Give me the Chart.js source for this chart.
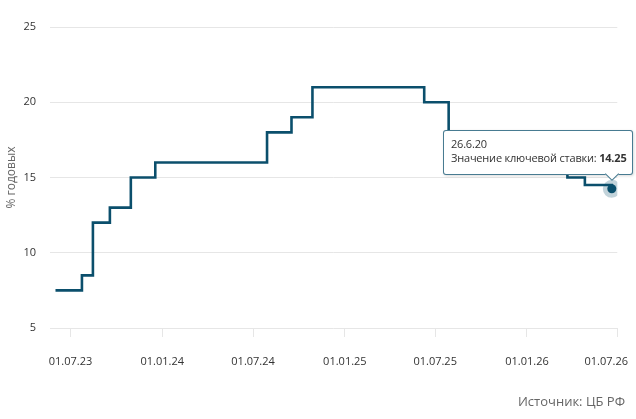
<!DOCTYPE html>
<html>
<head>
<meta charset="utf-8">
<style>
  body { margin: 0; background: #fff; font-family: "Open Sans", sans-serif; }
  #wrap { position: relative; width: 634px; height: 419px; }
  #tip { position: absolute; display: none; background: #fff; border: 1px solid rgba(11,79,108,0.75); border-radius: 3px;
         padding: 6px 6px 8px 7px; font: 11px "Open Sans", sans-serif; letter-spacing: -0.2px; line-height: 14.5px; color: #333; white-space: nowrap;
         box-shadow: 1px 1px 3px rgba(0,0,0,0.15); pointer-events: none; }
  #tip .caret { position: absolute; width: 9px; height: 9px; bottom: -5.5px; background: #fff; transform: rotate(45deg);
                border-right: 1px solid rgba(11,79,108,0.75); border-bottom: 1px solid rgba(11,79,108,0.75); }
  #source { position: absolute; right: 9px; top: 392px; font: 13px "Open Sans", sans-serif; color: #666; }
</style>
</head>
<body>
<div id="wrap">
  <canvas id="rateChart"></canvas>
  <div id="tip"></div>
  <div id="source">Источник: ЦБ РФ</div>
</div>

<script src="https://cdn.jsdelivr.net/npm/chart.js"></script>
<script>
    // key rate changes (date the new rate starts, % per year)
    const rateDates = ["2023-06-01", "2023-07-24", "2023-08-15", "2023-09-18", "2023-10-30", "2023-12-18",
        "2024-07-29", "2024-09-16", "2024-10-28", "2025-06-09", "2025-07-28", "2025-09-15",
        "2025-10-27", "2025-12-22", "2026-02-16", "2026-03-23", "2026-04-27", "2026-06-20"];
    const rateValues = [7.5, 8.5, 12, 13, 15, 16, 18, 19, 21, 20, 18, 17, 16.5, 16, 15.5, 15, 14.5, 14.25];
    const tickDates = ["2023-07-01", "2024-01-01", "2024-07-01", "2025-01-01", "2025-07-01", "2026-01-01", "2026-07-01"];
    const yTicks = [5, 10, 15, 20, 25];
    const axisStart = "2023-05-21", axisEnd = "2026-07-01";

    const ms = s => Date.parse(s + "T00:00:00Z");
    const pad = n => String(n).padStart(2, "0");
    const fmtTick = v => { const d = new Date(v); return pad(d.getUTCDate()) + "." + pad(d.getUTCMonth() + 1) + "." + pad(d.getUTCFullYear() % 100); };
    const fmtTitle = v => { const d = new Date(v); return (d.getUTCFullYear() % 100) + "." + (d.getUTCMonth() + 1) + "." + d.getUTCDate(); };
    const lineColor = "#0b4f6c";

    function externalTip(context) {
        const { chart, tooltip } = context;
        const el = document.getElementById("tip");
        if (tooltip.opacity === 0 || !tooltip.dataPoints || !tooltip.dataPoints.length) { el.style.display = "none"; return; }
        const p = tooltip.dataPoints[0];
        el.innerHTML = `<div>${fmtTitle(p.parsed.x)}</div><div>Значение ключевой ставки: <b>${p.parsed.y}</b></div><span class="caret"></span>`;
        el.style.display = "block";
        const w = el.offsetWidth, h = el.offsetHeight;
        const left = Math.min(tooltip.caretX - w / 2, chart.width - w - 1);
        el.style.left = left + "px";
        el.style.top = (tooltip.caretY - h - 14) + "px";
        el.querySelector(".caret").style.left = (tooltip.caretX - left - 1 - 5) + "px";
    }

    const chart = new Chart(document.getElementById("rateChart"), {
        type: "line",
        data: {
            datasets: [{
                data: rateDates.map((d, i) => ({ x: ms(d), y: rateValues[i] })),
                borderColor: lineColor, borderWidth: 2.6, stepped: true, fill: false,
                pointRadius: 0, pointHoverRadius: 4.5, pointHoverBorderWidth: 9,
                pointHoverBackgroundColor: lineColor, pointHoverBorderColor: "rgba(11,79,108,0.25)"
            }]
        },
        options: {
            responsive: true, maintainAspectRatio: false, animation: false, events: [],
            layout: { padding: { top: 27, right: 16.7, bottom: 33, left: 0 } },
            plugins: {
                legend: { display: false },
                tooltip: { enabled: false, external: externalTip, mode: "nearest", intersect: false }
            },
            scales: {
                x: {
                    type: "linear", min: ms(axisStart), max: ms(axisEnd),
                    afterBuildTicks: s => { s.ticks = tickDates.map(d => ({ value: ms(d) })); },
                    afterFit: s => { s.paddingLeft = 0; s.paddingRight = 0; s.height = 58; },
                    ticks: {
                        autoSkip: false, maxRotation: 0, padding: 18, color: "#333",
                        font: { family: "Open Sans", size: 11 },
                        callback: (v, i, arr) => fmtTick(v) + (i === arr.length - 1 ? "\u2002\u2002\u2002\u2002" : "")
                    },
                    grid: { drawOnChartArea: false, color: "#e6e6e6", tickLength: 9 },
                    border: { display: false }
                },
                y: {
                    min: 5, max: 25,
                    afterBuildTicks: s => { s.ticks = yTicks.map(v => ({ value: v })); },
                    afterFit: s => { s.width = 50; },
                    ticks: { padding: 14, color: "#333", font: { family: "Open Sans", size: 11 } },
                    grid: { color: "#e6e6e6", drawTicks: false },
                    border: { display: false },
                    title: { display: true, text: "% годовых", color: "#666", font: { family: "Open Sans", size: 12 } }
                }
            }
        }
    });

    const last = rateValues.length - 1;
    const pt = chart.getDatasetMeta(0).data[last];
    chart.setActiveElements([{ datasetIndex: 0, index: last }]);
    chart.tooltip.setActiveElements([{ datasetIndex: 0, index: last }], { x: pt.x, y: pt.y });
    chart.update();
</script>
</body>
</html>
